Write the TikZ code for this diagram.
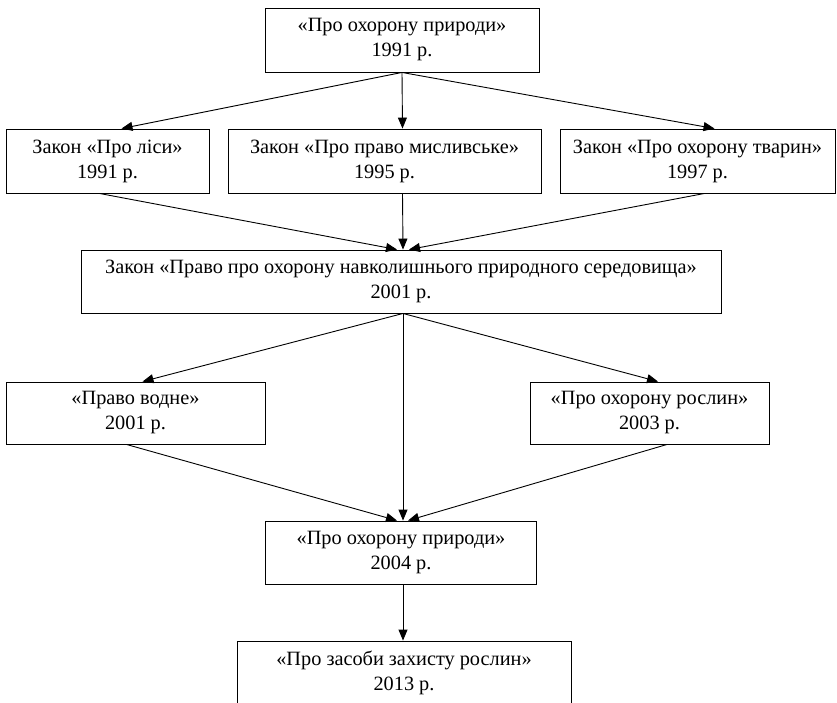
\documentclass[tikz,border=0pt]{standalone}
\usepackage{fontspec}
\setmainfont{Liberation Serif}
\usetikzlibrary{arrows.meta}

\begin{document}
\begin{tikzpicture}[x=1pt, y=-1pt, ->, >={Triangle[length=11pt, width=9pt]}, line width=0.9pt,
    law/.style={draw, rectangle, align=center, inner sep=0pt, minimum height=64pt,
      font=\fontsize{20.3}{25}\selectfont}]
      \useasboundingbox (0,0) rectangle (837,702);
      % nodes
      \node[law, minimum width=274pt] (nature91) at (402,40) {«Про охорону природи»\\1991 р.};
      \node[law, minimum width=203pt] (forest) at (107.5,161) {Закон «Про ліси»\\1991 р.};
      \node[law, minimum width=313pt] (hunt) at (384.5,161) {Закон «Про право мисливське»\\1995 р.};
      \node[law, minimum width=275pt] (animals) at (697.5,161) {Закон «Про охорону тварин»\\1997 р.};
      \node[law, minimum width=640pt, minimum height=63pt] (env) at (401,281.5) {Закон «Право про охорону навколишнього природного середовища»\\2001 р.};
      \node[law, minimum width=259pt, minimum height=62pt] (water) at (135.5,413) {«Право водне»\\2001 р.};
      \node[law, minimum width=239pt, minimum height=62pt] (plants) at (649.5,413) {«Про охорону рослин»\\2003 р.};
      \node[law, minimum width=271pt, minimum height=63pt] (nature04) at (401,552.5) {«Про охорону природи»\\2004 р.};
      \node[law, minimum width=334pt] (protect) at (404,673) {«Про засоби захисту рослин»\\2013 р.};
      % arrows
      \path (nature91.south) edge ([xshift=14pt]forest.north)
            (nature91.south) edge ([xshift=18pt]hunt.north)
            (nature91.south) edge ([xshift=17pt]animals.north);
      \path ([xshift=-8pt]forest.south) edge ([xshift=-4pt]env.north)
            ([xshift=18pt]hunt.south) edge ([xshift=2pt]env.north)
            ([xshift=7pt]animals.south) edge ([xshift=8pt]env.north);
      \path ([xshift=2pt]env.south) edge ([xshift=7pt]water.north)
            ([xshift=2pt]env.south) edge ([xshift=8.5pt]plants.north)
            ([xshift=2pt]env.south) edge ([xshift=2pt]nature04.north);
      \path ([xshift=-9pt]water.south) edge ([xshift=-4pt]nature04.north)
            ([xshift=17.5pt]plants.south) edge ([xshift=7pt]nature04.north);
      \path ([xshift=2pt]nature04.south) edge ([xshift=-1pt]protect.north);
\end{tikzpicture}
\end{document}
